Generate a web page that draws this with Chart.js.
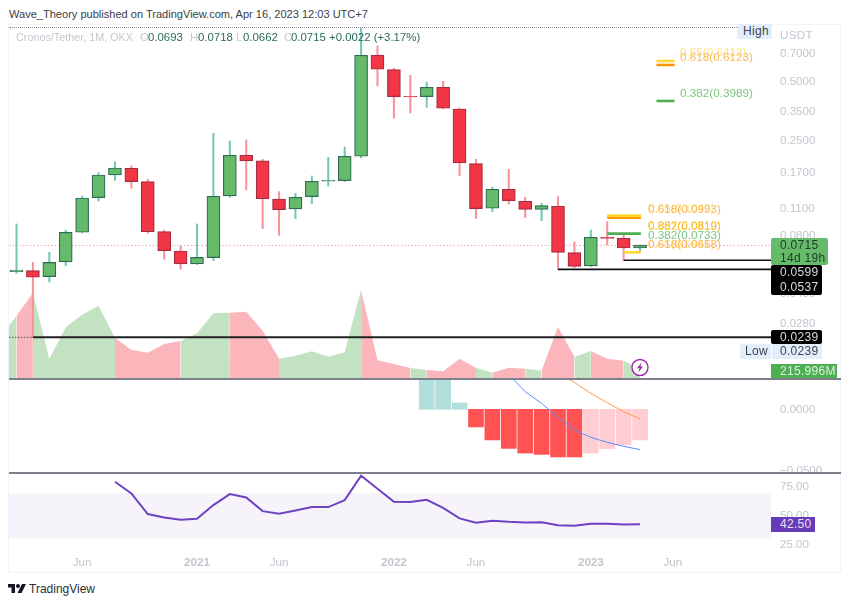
<!DOCTYPE html>
<html>
<head>
<meta charset="utf-8">
<script src="https://cdn.jsdelivr.net/npm/chart.js@4/dist/chart.umd.js"></script>
<style>
  html, body { margin: 0; background: #fff; }
  body { width: 850px; height: 604px; position: relative; overflow: hidden; font-family: "Liberation Sans", sans-serif; }
  canvas { position: absolute; left: 0; }
  .txt { position: absolute; white-space: nowrap; line-height: 14px; }
  .tag { position: absolute; box-sizing: border-box; white-space: nowrap; font-size: 12px; letter-spacing: .3px; padding-left: 9px; }
  .fib { position: absolute; white-space: nowrap; font-size: 11.7px; line-height: 14px; }
  #frame { position: absolute; left: 8px; top: 24px; width: 833px; height: 549px; border: 1px solid #f0f3fa; box-sizing: border-box; }
  .sep { position: absolute; left: 9px; width: 832px; height: 2px; background: #7d808b; }
  #dotted { position: absolute; left: 9px; top: 27px; width: 728px; border-top: 1px dotted #8a8d96; }
  .leg { position: absolute; top: 30px; font-size: 11.4px; line-height: 14px; white-space: nowrap; color: #2c6b5b; }
  .leg.dim { color: #c6c8d0; }
</style>
</head>
<body>
<div id="frame"></div>
<canvas id="price" style="top:28px" width="850" height="350"></canvas>
<canvas id="macd" style="top:378px" width="850" height="95"></canvas>
<canvas id="rsi" style="top:473px" width="850" height="100"></canvas>
<div id="dotted"></div>
<div class="sep" style="top:378px"></div>
<div class="sep" style="top:472px"></div>

<div class="txt" style="left:9px;top:7px;font-size:11.05px;color:#3a3d46">Wave_Theory published on TradingView.com, Apr 16, 2023 12:03 UTC+7</div>
<div class="leg dim" style="left:16px;font-size:10.8px">Cronos/Tether, 1M, OKX</div>
<div class="leg dim" style="left:140px">O</div><div class="leg" style="left:148px">0.0693</div>
<div class="leg dim" style="left:190px">H</div><div class="leg" style="left:198px">0.0718</div>
<div class="leg dim" style="left:236px">L</div><div class="leg" style="left:243px">0.0662</div>
<div class="leg dim" style="left:284px">C</div><div class="leg" style="left:291px">0.0715</div>
<div class="leg" style="left:329px">+0.0022 (+3.17%)</div>

<div class="fib" style="left:680px;top:45px;color:#ffe27a">0.65(0.6412)</div>
<div class="fib" style="left:680px;top:50px;color:#fbb756">0.618(0.6123)</div>
<div class="fib" style="left:680px;top:86px;color:#7cc47f">0.382(0.3989)</div>
<div class="fib" style="left:648px;top:201px;color:#ffe27a">0.65(0.1042)</div>
<div class="fib" style="left:648px;top:202px;color:#fbb756">0.618(0.0993)</div>
<div class="fib" style="left:648px;top:218px;color:#ffd75e">0.887(0.0810)</div>
<div class="fib" style="left:648px;top:219px;color:#f3c13a">0.882(0.0819)</div>
<div class="fib" style="left:648px;top:228px;color:#7cc47f">0.382(0.0733)</div>
<div class="fib" style="left:648px;top:237px;color:#ffe27a">0.65(0.0641)</div>
<div class="fib" style="left:648px;top:237px;color:#fbb756">0.618(0.0658)</div>

<div class="txt" style="left:780px;top:28px;font-size:11.6px;color:#c3c5cd;letter-spacing:.3px">USDT</div>
<div class="tag" style="left:737px;top:24px;width:35px;height:15px;background:#e3eefb;color:#3f4350;line-height:15px;padding-left:6px">High</div>
<div class="tag" style="left:771px;top:238px;width:57px;height:27px;background:#66bb6a;color:#1d3a25;line-height:13px;padding-top:1px;border-radius:2px">0.0715<br>14d 19h</div>
<div class="tag" style="left:771px;top:265px;width:51px;height:30px;background:#000;color:#d8dade;line-height:15px;border-radius:2px">0.0599<br>0.0537</div>
<div class="tag" style="left:771px;top:330px;width:51px;height:14px;background:#000;color:#d8dade;line-height:14px;border-radius:2px">0.0239</div>
<div class="tag" style="left:740px;top:344px;width:31px;height:15px;background:#e3eefb;color:#3f4350;line-height:15px;padding-left:5px">Low</div>
<div class="tag" style="left:772px;top:344px;width:50px;height:15px;background:#e3eefb;color:#3f4350;line-height:15px;padding-left:8px">0.0239</div>
<div class="tag" style="left:771px;top:364px;width:66px;height:14px;background:#4caf50;color:#dff0df;line-height:14px;padding-left:9px">215.996M</div>
<div class="tag" style="left:771px;top:517px;width:44px;height:15px;background:#673ab7;color:#e8e0f5;line-height:15px">42.50</div>

<svg style="position:absolute;left:630px;top:358px" width="20" height="20" viewBox="0 0 20 20">
  <circle cx="10" cy="9.5" r="8" fill="#fff" stroke="#9c27b0" stroke-width="1.4"/>
  <path d="M11.5 4.5 L7 10.2 H9.6 L8.4 14.5 L13 8.6 H10.4 Z" fill="#9c27b0"/>
</svg>

<svg style="position:absolute;left:8px;top:583px" width="18" height="11" viewBox="0 0 36 22">
  <path d="M0 2 H14 V20 H7 V9 H0 Z M17 2 H36 L27 20 H19 L28 2 Z" fill="#131722"/>
  <circle cx="20" cy="6" r="4" fill="#131722"/>
</svg>
<div class="txt" style="left:29px;top:582px;font-size:12px;color:#2a2e39">TradingView</div>

<script>
// candles, Feb 2020 .. Apr 2023, one per month
const opens = [0.0523,0.0529,0.0493,0.0587,0.0836,0.1263,0.1655,0.1792,0.1529,0.0842,0.0669,0.0573,0.0618,0.1289,0.2092,0.1956,0.1243,0.1104,0.1279,0.1535,0.1547,0.2068,0.6891,0.5809,0.4227,0.4210,0.4706,0.3635,0.1895,0.1113,0.1395,0.1209,0.1099,0.1139,0.0656,0.0560,0.0787,0.0778,0.0693];
const highs = [0.0923,0.0584,0.0658,0.0859,0.1289,0.1702,0.1933,0.1843,0.1572,0.0859,0.0710,0.0923,0.2720,0.2482,0.2512,0.1995,0.1357,0.1330,0.1636,0.2043,0.2311,0.9507,0.7702,0.5902,0.5429,0.5014,0.5054,0.3678,0.1995,0.1435,0.1771,0.1268,0.1181,0.1279,0.0745,0.0859,0.0949,0.0810,0.0718];
const lows = [0.0513,0.0239,0.0462,0.0560,0.0830,0.1214,0.1553,0.1412,0.0826,0.0606,0.0538,0.0570,0.0596,0.1268,0.1384,0.0873,0.0806,0.0984,0.1176,0.1452,0.1529,0.2027,0.4781,0.3252,0.3466,0.3708,0.3640,0.1642,0.0984,0.1069,0.1171,0.0995,0.0960,0.0537,0.0548,0.0555,0.0719,0.0599,0.0662];
const closes = [0.0533,0.0489,0.0584,0.0836,0.1258,0.1655,0.1799,0.1529,0.0842,0.0672,0.0573,0.0620,0.1284,0.2092,0.1956,0.1248,0.1095,0.1268,0.1535,0.1553,0.2068,0.6891,0.5832,0.4210,0.4194,0.4706,0.3664,0.1910,0.1108,0.1395,0.1219,0.1099,0.1148,0.0658,0.0557,0.0787,0.0778,0.0693,0.0715];

// volume in millions, first value is the month before the first candle
const volumes = [984,1496,2040,456,1216,1520,1736,960,680,608,816,888,1072,1552,1568,1592,1136,464,536,640,512,616,2112,424,336,240,192,160,464,248,128,248,224,176,1232,504,648,464,416,216];

// MACD pane, indexes are candle positions
const histIdx = [25,26,27,28,29,30,31,32,33,34,35,36,37,38];
const histValues = [0.0250,0.0250,0.0052,-0.0144,-0.0250,-0.0319,-0.0357,-0.0368,-0.0389,-0.0389,-0.0357,-0.0321,-0.0291,-0.0250];
const macdIdx = [30,31,32,33,34,35,36,37,38];
const macdValues = [0.0283,0.0144,0.0049,-0.0065,-0.0169,-0.0229,-0.0269,-0.0302,-0.0329];
const signalIdx = [33,34,35,36,37,38];
const signalValues = [0.0307,0.0220,0.0131,0.0054,-0.0019,-0.0079];

// RSI from candle 6 on
const rsiStart = 6;
const rsiValues = [79.8,69.6,51.5,48.5,46.5,47.4,59.4,69,66.1,54.1,51.8,54.7,57.6,57.6,63.7,85.1,73.7,62.3,62,64,57,47.7,43.9,45.6,44.7,44.2,44.4,41.8,41.2,43,43,42.4,42.5];

const priceTicks = [0.7,0.5,0.35,0.25,0.17,0.11,0.08,0.04,0.028];
const macdTicks = [0,-0.05];
const rsiTicks = [75,50,25];
const timeTickIdx = [4,11,16,23,28,35,40];
const timeTickText = ['Jun','2021','Jun','2022','Jun','2023','Jun'];

// levels drawn on the price pane
const lastPrice = 0.0715;
const supportLevels = [0.0599,0.0537];
const supportFrom = [37,33];
const lowLevel = 0.0239;
const fibLower = [0.1019,0.0995,0.0823,0.0658];
const fibUpper = [0.644,0.614,0.3998];

const X_MIN = -0.457, X_MAX = 45.98;
const LEFT = 9, AXIS_W = 79;
const FIB_W = 2.6;
const axisGray = '#c3c5cd';
const tickFont = { family: '"Liberation Sans", sans-serif', size: 11.6 };

const xScale = { type: 'linear', display: false, offset: false, min: X_MIN, max: X_MAX, grid: { display: false } };

function yScale(extra, ticks, fmt) {
  return Object.assign({
    position: 'right',
    grid: { display: false, drawTicks: false },
    border: { display: false },
    // labels at the pane edge must not shrink the plot
    afterFit: s => { s.width = AXIS_W; s.paddingTop = 0; s.paddingBottom = 0; },
    afterBuildTicks: s => { s.ticks = ticks.map(v => ({ value: v })); },
    ticks: { color: axisGray, font: tickFont, padding: 9, autoSkip: false, callback: fmt }
  }, extra);
}

function hline(y, from, to, color, width, dash, order) {
  return {
    type: 'line', data: [{ x: from, y: y }, { x: to, y: y }],
    borderColor: color, borderWidth: width, borderDash: dash || [], pointRadius: 0, order: order || 3
  };
}

const base = {
  responsive: false,
  animation: false,
  events: [],
  layout: { padding: { left: LEFT, right: 0, top: 0, bottom: 0 } },
  plugins: { legend: { display: false }, tooltip: { enabled: false } }
};

const idx = opens.map((_, i) => i);
const up = i => closes[i] >= opens[i];

new Chart(document.getElementById('price'), {
  type: 'bar',
  data: {
    datasets: [
      {
        type: 'line', yAxisID: 'v', order: 10, pointRadius: 0, borderWidth: 0, fill: 'origin',
        data: volumes.map((v, i) => ({ x: i - 1, y: v })),
        backgroundColor: '#c3e2c1',
        segment: { backgroundColor: c => up(c.p1DataIndex - 1) ? '#c3e2c1' : '#fbb6bb' }
      },
      {
        grouped: false, order: 5, barThickness: 1.4, borderWidth: 0,
        data: idx.map(i => ({ x: i, y: [lows[i], highs[i]] })),
        backgroundColor: idx.map(i => up(i) ? '#74c7b6' : '#f9929b')
      },
      {
        grouped: false, order: 4, barThickness: 13, borderWidth: 1.2, borderSkipped: false,
        data: idx.map(i => ({ x: i, y: [opens[i], closes[i]] })),
        backgroundColor: idx.map(i => up(i) ? '#66bb6a' : '#f23645'),
        borderColor: idx.map(i => up(i) ? '#2f6b55' : '#a52c3d')
      },
      hline(lastPrice, X_MIN, X_MAX, '#f7a5aa', 1, [1.5, 2], 6),
      hline(supportLevels[0], supportFrom[0], X_MAX, '#111', 1.6),
      hline(supportLevels[1], supportFrom[1], X_MAX, '#111', 1.6),
      hline(lowLevel, X_MIN, 1, '#555', 1, [1.5, 1.5]),
      hline(lowLevel, 1, X_MAX, '#222', 2),
      hline(fibLower[0], 36, 38.05, '#fdd835', FIB_W),
      hline(fibLower[1], 36, 38.05, '#ff9800', FIB_W),
      hline(fibLower[2], 36, 38.05, '#4caf50', FIB_W),
      hline(fibLower[3], 37, 38.05, '#fdd835', FIB_W),
      hline(fibUpper[0], 39, 40.1, '#fdd835', FIB_W),
      hline(fibUpper[1], 39, 40.1, '#ff9800', FIB_W),
      hline(fibUpper[2], 39, 40.1, '#4caf50', FIB_W)
    ]
  },
  options: Object.assign({}, base, {
    scales: {
      x: xScale,
      y: yScale({ type: 'logarithmic', min: 0.01472, max: 0.954 }, priceTicks, v => v.toFixed(4)),
      v: { display: false, min: 0, max: 8400 }
    }
  })
});

new Chart(document.getElementById('macd'), {
  type: 'bar',
  data: {
    datasets: [
      {
        grouped: false, order: 5, barThickness: 15, borderWidth: 0,
        data: histIdx.map((x, i) => ({ x: x, y: histValues[i] })),
        backgroundColor: histIdx.map(x => x < 28 ? '#b2dfdb' : x < 35 ? '#ff5252' : '#ffcdd2')
      },
      {
        type: 'line', order: 1, pointRadius: 0, borderWidth: 1, borderColor: '#5b8cff',
        data: macdIdx.map((x, i) => ({ x: x, y: macdValues[i] }))
      },
      {
        type: 'line', order: 1, pointRadius: 0, borderWidth: 1, borderColor: '#ff9a4d',
        data: signalIdx.map((x, i) => ({ x: x, y: signalValues[i] }))
      }
    ]
  },
  options: Object.assign({}, base, {
    scales: {
      x: xScale,
      y: yScale({ min: -0.052, max: 0.0256 }, macdTicks, v => v < 0 ? '\u2212' + Math.abs(v).toFixed(4) : v.toFixed(4))
    }
  })
});

new Chart(document.getElementById('rsi'), {
  type: 'line',
  data: {
    datasets: [
      {
        order: 5, pointRadius: 0, borderWidth: 0, fill: '+1', backgroundColor: '#f6f3fb',
        data: [{ x: X_MIN, y: 70 }, { x: X_MAX, y: 70 }]
      },
      {
        order: 5, pointRadius: 0, borderWidth: 0,
        data: [{ x: X_MIN, y: 30 }, { x: X_MAX, y: 30 }]
      },
      {
        order: 1, pointRadius: 0, borderWidth: 2, borderColor: '#6f42c1',
        data: rsiValues.map((v, i) => ({ x: rsiStart + i, y: v }))
      }
    ]
  },
  options: Object.assign({}, base, {
    scales: {
      x: {
        type: 'linear', offset: false, min: X_MIN, max: X_MAX,
        grid: { display: false, drawTicks: false }, border: { display: false },
        afterFit: s => { s.height = 20; s.paddingLeft = 0; s.paddingRight = 0; },
        ticks: {
          stepSize: 1, autoSkip: false, maxRotation: 0, padding: 3, color: axisGray,
          font: c => ({ family: tickFont.family, size: 11.6, weight: c.tick && /^\d{4}$/.test(c.tick.label) ? 'bold' : 'normal' }),
          callback: v => {
            const k = timeTickIdx.indexOf(v);
            return k >= 0 ? timeTickText[k] : '';
          }
        }
      },
      y: yScale({ min: 17.4, max: 87.5 }, rsiTicks, v => v.toFixed(2))
    }
  })
});
</script>
</body>
</html>
